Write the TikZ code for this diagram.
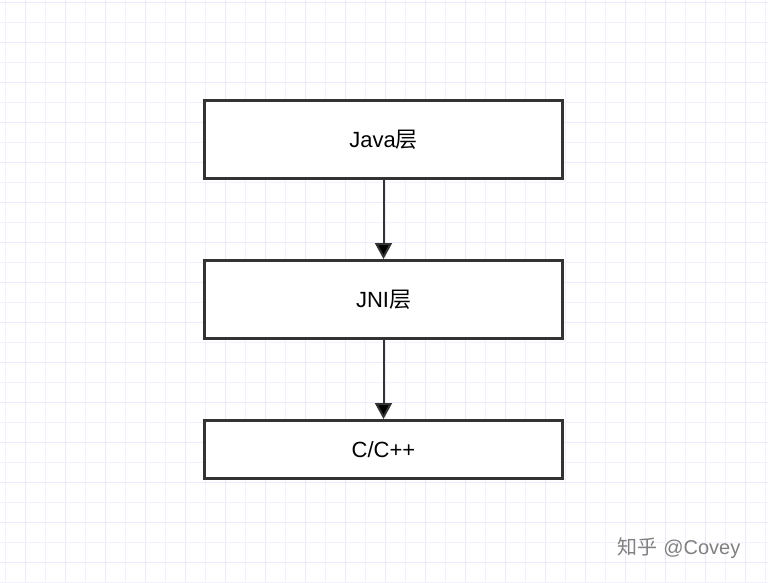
\documentclass[tikz,border=0pt]{standalone}
\usepackage{fontspec}
\setmainfont{Liberation Sans}
\newfontfamily\cjk{Noto Sans CJK SC}
\usetikzlibrary{arrows.meta}
\definecolor{gridlt}{RGB}{242,242,252}
\definecolor{griddk}{RGB}{234,234,250}
\definecolor{boxgray}{RGB}{51,51,51}
\def\layer{\node[draw=boxgray,line width=3pt,fill=white,minimum width=358pt,font=\fontsize{22}{26}\selectfont]}
\def\down{\draw[boxgray,line width=2pt,-{Triangle[length=16pt,width=17pt,fill=black]}]}

\begin{document}
\begin{tikzpicture}[x=1pt,y=-1pt]
                \fill[white] (0,0) rectangle (768,582);
                \useasboundingbox (0,0) rectangle (768,582);
                \foreach \i in {0,...,38} {
                    \pgfmathsetmacro\gx{5+20*\i}
                    \ifodd\i \def\gc{griddk}\else \def\gc{gridlt}\fi
                    \draw[\gc,line width=1pt] (\gx,0) -- (\gx,582);
                }
                \foreach \i in {0,...,29} {
                    \pgfmathsetmacro\gy{2+20*\i}
                    \ifodd\i \def\gc{gridlt}\else \def\gc{griddk}\fi
                    \draw[\gc,line width=1pt] (0,\gy) -- (768,\gy);
                }
                \layer[minimum height=78pt] (java) at (383.5,139.5) {Java{\cjk 层}};
                \layer[minimum height=78pt] (jni) at (383.5,299.5) {JNI{\cjk 层}};
                \layer[minimum height=58pt] (cpp) at (383.5,449.5) {C/C++};
                \down (java) -- (jni);
                \down (jni) -- (cpp);
                \node[text=black!50,font=\fontsize{20}{24}\selectfont] (mark) at (679,548) {{\cjk 知乎}\ @Covey};
            \end{tikzpicture}
\end{document}
